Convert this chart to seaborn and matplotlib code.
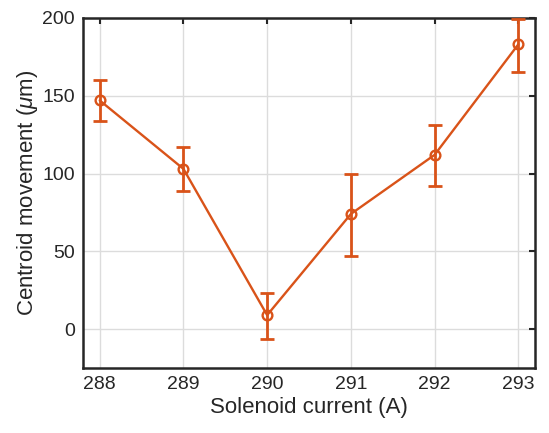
import matplotlib
matplotlib.use("Agg")
import matplotlib.pyplot as plt
import seaborn as sns
import pandas as pd

current = [288, 289, 290, 291, 292, 293]
movement = [147, 103, 9, 74, 112, 183]
err_low = [134, 89, -6.5, 47, 92, 165.5]
err_high = [160, 117, 23, 100, 131, 199.5]

color = "#D95319"

sns.set_theme(style="white")
plt.rcParams['font.family'] = ['Liberation Sans', 'DejaVu Sans']
plt.rcParams['mathtext.fontset'] = 'custom'
plt.rcParams['mathtext.it'] = 'Liberation Sans:italic'
plt.rcParams['mathtext.rm'] = 'Liberation Sans'

df = pd.DataFrame({"current": current, "movement": movement})

fig = plt.figure(figsize=(5.49, 4.33), dpi=100)
ax = fig.add_axes([83/549, 1 - 368/433, (535-83)/549, (368-18)/433])

yerr = [[m - l for m, l in zip(movement, err_low)], [h - m for m, h in zip(movement, err_high)]]
ax.errorbar(current, movement, yerr=yerr, fmt='none', ecolor=color, elinewidth=2,
            capsize=5, capthick=2, zorder=3)
sns.lineplot(data=df, x="current", y="movement", ax=ax, color=color, linewidth=1.7,
             marker='o', markersize=7, markerfacecolor='none', markeredgecolor=color,
             markeredgewidth=1.7, zorder=4)

ax.set_xlim(287.8, 293.2)
ax.set_ylim(-25, 200)
ax.set_xticks(current)
ax.set_yticks([0, 50, 100, 150, 200])
ax.grid(True, color='#dcdcdc', linewidth=1)
ax.set_axisbelow(True)
for s in ax.spines.values():
    s.set_color('#262626')
    s.set_linewidth(1.8)
ax.tick_params(direction='in', top=True, right=True, length=4, width=1.5,
               color='#262626', labelsize=14, labelcolor='#262626', pad=6)
ax.set_xlabel("Solenoid current (A)", fontsize=16, color='#262626', labelpad=3)
ax.set_ylabel(r"Centroid movement ($\mu$m)", fontsize=16, color='#262626', labelpad=1.5)

fig.savefig("out.png", dpi=100)
